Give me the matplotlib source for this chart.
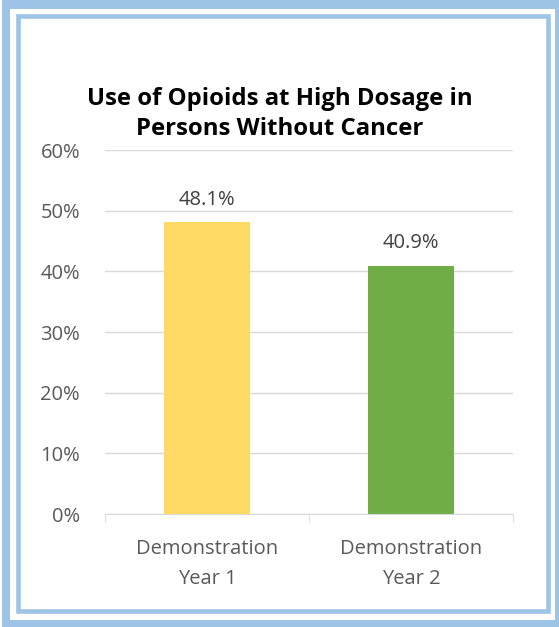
import matplotlib
matplotlib.use("Agg")
import matplotlib.pyplot as plt
from matplotlib.patches import Rectangle

categories = ["Demonstration\nYear 1", "Demonstration\nYear 2"]
values = [48.1, 40.9]
bar_colors = ["#FFD966", "#70AD47"]
yticks = [0, 10, 20, 30, 40, 50, 60]
title = "Use of Opioids at High Dosage in\nPersons Without Cancer"

plt.rcParams["font.family"] = ["Open Sans", "DejaVu Sans"]

fig = plt.figure(figsize=(5.59, 6.27), dpi=100)
W, H = 559, 627

# double light-blue frame around the chart
frame = "#9DC3E6"
fig.patches.append(Rectangle((2 / W, 0), 557 / W, 1, transform=fig.transFigure,
                             facecolor=frame, edgecolor="none", zorder=-3))
fig.patches.append(Rectangle((10 / W, 7 / H), 545 / W, 611 / H,
                             transform=fig.transFigure, facecolor="white",
                             edgecolor="none", zorder=-2))
fig.patches.append(Rectangle((18 / W, 16 / H), 529.5 / W, 595 / H,
                             transform=fig.transFigure, facecolor="white",
                             edgecolor=frame, linewidth=3.3, zorder=-1))

ax = fig.add_axes([105 / W, 1 - 514 / H, 408 / W, 364 / H])
x = [0, 1]
bars = ax.bar(x, values, width=0.42, color=bar_colors, zorder=3)
for b, v in zip(bars, values):
    ax.annotate(f"{v:.1f}%", (b.get_x() + b.get_width() / 2, v),
                xytext=(0, 9), textcoords="offset points", ha="center",
                va="bottom", fontsize=14.5, color="#404040")

ax.set_xlim(-0.5, 1.5)
ax.set_ylim(0, 60)
ax.set_yticks(yticks)
ax.set_yticklabels([f"{t}%" for t in yticks])
ax.yaxis.grid(True, color="#D9D9D9", linewidth=1)
ax.set_axisbelow(True)
for s in ["top", "right", "left"]:
    ax.spines[s].set_visible(False)
ax.spines["bottom"].set_color("#D9D9D9")
ax.tick_params(axis="y", length=0, labelsize=14.5, labelcolor="#595959", pad=18)
ax.set_xticks(x)
ax.set_xticklabels(categories, linespacing=1.7)
ax.tick_params(axis="x", length=0, labelsize=14.5, labelcolor="#595959", pad=18)
# category boundary ticks
ax.set_xticks([-0.5, 0.5, 1.5], minor=True)
ax.tick_params(axis="x", which="minor", length=6, color="#D9D9D9", direction="out")

fig.text(0.5, 1 - 114 / H, title, ha="center", va="center", fontsize=17.2,
         fontweight="bold", color="black", linespacing=1.35)

fig.savefig("out.png", dpi=100)
